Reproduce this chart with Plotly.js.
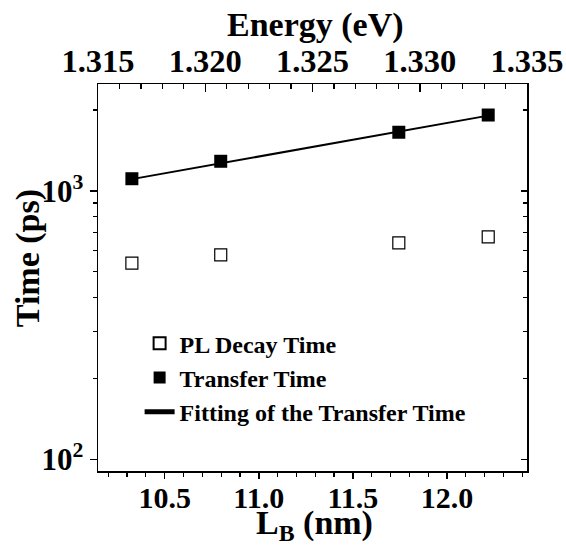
<!DOCTYPE html>
<html>
<head>
<meta charset="utf-8">
<script src="https://cdn.plot.ly/plotly-3.0.1.min.js"></script>
<style>html,body{margin:0;padding:0;background:#fff;}#chart{width:566px;height:552px;}</style>
</head>
<body>
<div id="chart"></div>
<script>
// Data
const barrierWidth = [10.326, 10.798, 11.744, 12.219];          // L_B (nm)
const plDecayTime  = [538, 577, 640, 674];                       // ps
const transferTime = [1109, 1288, 1652, 1915];                   // ps
const fitX = [10.326, 12.219];                                   // fit line endpoints (nm)
const fitY = [1105, 1905];                                       // ps
const energyRange = [1.315, 1.335];                              // eV, top axis
const yMajorTicks = [100, 1000];
const yMajorLabels = ['10<sup>2</sup>', '10<sup>3</sup>'];
const yMinorTicks = [200, 300, 400, 500, 600, 700, 800, 900, 2000];

const FONT = 'Liberation Serif, Times New Roman, serif';
const tickFont = {family: FONT, size: 30, color: '#000', weight: 'bold'};
const titleFont = {family: FONT, size: 34, color: '#000', weight: 'bold'};

const traces = [
  {x: barrierWidth, y: plDecayTime, type: 'scatter', mode: 'markers', name: 'PL Decay Time',
   marker: {symbol: 'square-open', size: 12, color: '#000', line: {width: 1.2, color: '#222'}}},
  {x: barrierWidth, y: transferTime, type: 'scatter', mode: 'markers', name: 'Transfer Time',
   marker: {symbol: 'square', size: 13, color: '#000'}},
  {x: fitX, y: fitY, type: 'scatter', mode: 'lines', name: 'Fitting of the Transfer Time',
   line: {color: '#000', width: 2}},
  // empty trace that only registers the top (energy) and right axes
  {x: [], y: [], type: 'scatter', mode: 'none', xaxis: 'x2', yaxis: 'y2', showlegend: false, hoverinfo: 'skip'}
];

const layout = {
  width: 566, height: 552,
  margin: {l: 98, r: 39, t: 84, b: 81, pad: 0},
  paper_bgcolor: '#fff', plot_bgcolor: '#fff',
  font: {family: FONT, color: '#000', weight: 'bold'},
  showlegend: true,
  legend: {x: 0.097, y: 0.387, xanchor: 'left', yanchor: 'top', bgcolor: 'rgba(0,0,0,0)',
           font: {family: FONT, size: 24, color: '#000', weight: 'bold'}, itemsizing: 'constant'},
  xaxis: {
    range: [10.146, 12.425], tick0: 10.5, dtick: 0.5, tickformat: '.1f',
    ticks: 'outside', ticklen: 6, tickwidth: 1.5, tickcolor: '#000',
    minor: {dtick: 0.1, tick0: 10.5, ticks: 'outside', ticklen: 4, tickwidth: 1.2, tickcolor: '#000'},
    showline: true, linewidth: 1.5, linecolor: '#000', showgrid: false, zeroline: false,
    tickfont: tickFont, ticklabelstandoff: -7
  },
  xaxis2: {
    overlaying: 'x', side: 'top', anchor: 'y2',
    range: energyRange, tick0: 1.315, dtick: 0.005, tickformat: '.3f',
    ticks: 'inside', ticklen: 8, tickwidth: 1.5, tickcolor: '#000',
    minor: {dtick: 0.001, tick0: 1.315, ticks: 'inside', ticklen: 5, tickwidth: 1.2, tickcolor: '#000'},
    showline: true, linewidth: 1.5, linecolor: '#000', showgrid: false, zeroline: false,
    tickfont: {family: FONT, size: 32.5, color: '#000', weight: 'bold'}, ticklabelstandoff: -2,
    ticklabeloverflow: 'allow'
  },
  yaxis: {
    type: 'log', range: [1.9564, 3.3977],
    tickmode: 'array', tickvals: yMajorTicks, ticktext: yMajorLabels,
    ticks: 'outside', ticklen: 7, tickwidth: 1.5, tickcolor: '#000',
    minor: {tickmode: 'array', tickvals: yMinorTicks, ticks: 'outside', ticklen: 4, tickwidth: 1.2, tickcolor: '#000'},
    showline: true, linewidth: 1.5, linecolor: '#000', showgrid: false, zeroline: false,
    tickfont: {family: FONT, size: 31, color: '#000', weight: 'bold'}
  },
  yaxis2: {
    type: 'log', range: [1.9564, 3.3977], overlaying: 'y', side: 'right', anchor: 'x2',
    tickmode: 'array', tickvals: yMajorTicks, showticklabels: false,
    ticks: 'inside', ticklen: 6, tickwidth: 1.5, tickcolor: '#000',
    minor: {tickmode: 'array', tickvals: yMinorTicks, ticks: 'inside', ticklen: 4, tickwidth: 1.2, tickcolor: '#000'},
    showline: true, linewidth: 1.5, linecolor: '#000', showgrid: false, zeroline: false
  },
  annotations: [
    {text: 'Time (ps)', textangle: -90, showarrow: false,
     xref: 'paper', yref: 'paper', x: 0, y: 0.55, xanchor: 'center', yanchor: 'middle', xshift: -70,
     font: titleFont},
    {text: 'L<sub>B</sub> (nm)', showarrow: false,
     xref: 'paper', yref: 'paper', x: 0.505, y: 0, xanchor: 'center', yanchor: 'top', yshift: -31,
     font: titleFont},
    {text: 'Energy (eV)', showarrow: false,
     xref: 'paper', yref: 'paper', x: 0.507, y: 1, xanchor: 'center', yanchor: 'bottom', yshift: 38,
     font: titleFont}
  ]
};

Plotly.newPlot('chart', traces, layout, {staticPlot: true, displayModeBar: false});
</script>
</body>
</html>
